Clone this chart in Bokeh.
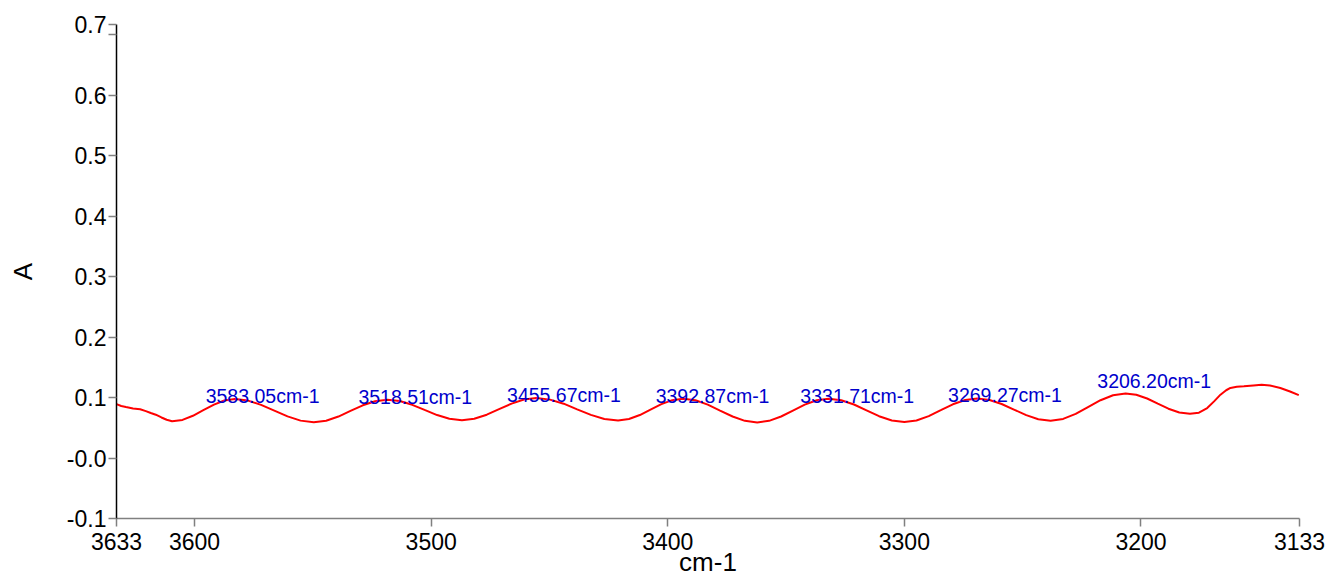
from bokeh.plotting import figure
from bokeh.models import Range1d, FixedTicker, CustomJSTickFormatter
from bokeh.core.properties import value
from bokeh.embed import file_html
from bokeh.resources import INLINE

# ---------------- data ----------------
wavenumber = [
    3633.0, 3631.0, 3629.0, 3626.0, 3623.0, 3620.6, 3618.5, 3616.4, 3614.0, 3611.8,
    3609.5, 3605.1, 3600.7, 3596.3, 3591.8, 3587.4, 3583.0, 3577.4, 3571.9, 3566.3,
    3560.7, 3555.2, 3549.6, 3544.4, 3539.2, 3534.1, 3528.9, 3523.7, 3518.5, 3513.3,
    3508.0, 3502.8, 3497.5, 3492.3, 3487.0, 3481.8, 3476.5, 3471.3, 3466.0, 3460.8,
    3455.5, 3449.8, 3444.0, 3438.3, 3432.5, 3426.8, 3421.0, 3416.4, 3411.8, 3407.3,
    3402.7, 3398.1, 3393.5, 3388.3, 3383.1, 3377.9, 3372.6, 3367.4, 3362.2, 3357.2,
    3352.1, 3347.1, 3342.1, 3337.0, 3332.0, 3326.7, 3321.3, 3316.0, 3310.7, 3305.3,
    3300.0, 3294.9, 3289.7, 3284.6, 3279.5, 3274.3, 3269.2, 3264.0, 3258.9, 3253.7,
    3248.5, 3243.4, 3238.2, 3232.9, 3227.6, 3222.4, 3217.1, 3211.8, 3206.5, 3202.0,
    3197.4, 3192.9, 3188.4, 3183.8, 3179.3, 3175.5, 3172.0, 3169.0, 3166.4, 3164.0,
    3162.2, 3159.5, 3156.5, 3152.5, 3149.0, 3145.5, 3141.1, 3137.0, 3133.3,
]
absorbance = [
    0.0890, 0.0860, 0.0843, 0.0820, 0.0805, 0.0775, 0.0745, 0.0716, 0.0670, 0.0633,
    0.0608, 0.0630, 0.0698, 0.0790, 0.0883, 0.0950, 0.0975, 0.0949, 0.0879, 0.0784,
    0.0688, 0.0618, 0.0592, 0.0617, 0.0685, 0.0778, 0.0871, 0.0939, 0.0964, 0.0941,
    0.0879, 0.0795, 0.0710, 0.0648, 0.0625, 0.0649, 0.0716, 0.0808, 0.0899, 0.0966,
    0.0990, 0.0965, 0.0898, 0.0805, 0.0713, 0.0645, 0.0620, 0.0644, 0.0710, 0.0800,
    0.0890, 0.0956, 0.0980, 0.0954, 0.0882, 0.0784, 0.0686, 0.0614, 0.0588, 0.0614,
    0.0686, 0.0784, 0.0882, 0.0954, 0.0980, 0.0954, 0.0884, 0.0788, 0.0691, 0.0621,
    0.0595, 0.0621, 0.0693, 0.0790, 0.0888, 0.0959, 0.0985, 0.0960, 0.0893, 0.0801,
    0.0708, 0.0641, 0.0616, 0.0646, 0.0729, 0.0842, 0.0955, 0.1038, 0.1068, 0.1045,
    0.0984, 0.0899, 0.0815, 0.0753, 0.0730, 0.0750, 0.0826, 0.0940, 0.1047, 0.1120,
    0.1158, 0.1178, 0.1186, 0.1200, 0.1212, 0.1200, 0.1158, 0.1100, 0.1040,
]
peak_wavenumber = [3583.05, 3518.51, 3455.67, 3392.87, 3331.71, 3269.27, 3206.20]
peak_absorbance = [0.0975, 0.0964, 0.0990, 0.0980, 0.0980, 0.0985, 0.1068]
peak_labels = [f"{w:.2f}cm-1" for w in peak_wavenumber]

x_ticks = [3633, 3600, 3500, 3400, 3300, 3200, 3133]
y_ticks = [-0.1, 0.0, 0.1, 0.2, 0.3, 0.4, 0.5, 0.6, 0.7]
x_start, x_end = 3633, 3133
y_start, y_end = -0.1, 0.7166

# ---------------- figure ----------------
FONT = "Liberation Sans"
p = figure(
    width=1330, height=580,
    x_range=Range1d(x_start, x_end), y_range=Range1d(y_start, y_end),
    min_border_left=116, min_border_right=31, min_border_top=24, min_border_bottom=62,
    output_backend="svg", toolbar_location=None,
)
p.background_fill_color = "white"
p.border_fill_color = "white"
p.outline_line_color = None
p.xgrid.visible = False
p.ygrid.visible = False

p.line(wavenumber, absorbance, line_color="#ff0000", line_width=2)

# pixel lifts so the labels sit as in the reference (last one clears the curve)
lifts = [-3, -3, -3, -3, -3, -3, -12]
p.text(
    x=peak_wavenumber, y=peak_absorbance, text=peak_labels,
    x_offset=-29, y_offset=lifts,
    text_align="left", text_baseline="alphabetic",
    text_font=value(FONT), text_font_size="19.5px", text_color="#0000cc",
)

# axes
xa = p.xaxis[0]
xa.ticker = FixedTicker(ticks=x_ticks)
xa.axis_label = "cm-1"
xa.axis_label_text_font = FONT
xa.axis_label_text_font_size = "26px"
xa.axis_label_text_font_style = "normal"
xa.axis_label_text_color = "black"
xa.axis_label_standoff = -6
xa.major_label_text_font = FONT
xa.major_label_text_font_size = "23px"
xa.major_label_text_color = "black"
xa.major_label_standoff = 6
xa.axis_line_color = "#808080"
xa.axis_line_width = 1.5
xa.major_tick_line_color = "#808080"
xa.major_tick_line_width = 1.5
xa.major_tick_out = 8
xa.major_tick_in = 0
xa.minor_tick_line_color = None

# the reference prints the top label "0.7" at the very end of the axis
top_label_at = y_end - 0.0003
ya = p.yaxis[0]
ya.ticker = FixedTicker(ticks=y_ticks + [top_label_at])
ya.formatter = CustomJSTickFormatter(code="""
    if (tick > 0.705) { return "0.7"; }
    if (Math.abs(tick - 0.7) < 1e-9) { return ""; }
    if (Math.abs(tick) < 1e-9) { return "-0.0"; }
    return tick.toFixed(1);
""")
ya.axis_label = "A"
ya.axis_label_text_font = FONT
ya.axis_label_text_font_size = "26px"
ya.axis_label_text_font_style = "normal"
ya.axis_label_text_color = "black"
ya.axis_label_standoff = 26
ya.major_label_text_font = FONT
ya.major_label_text_font_size = "23px"
ya.major_label_text_color = "black"
ya.major_label_standoff = 2
ya.axis_line_color = "black"
ya.axis_line_width = 1.5
ya.major_tick_line_color = "#808080"
ya.major_tick_line_width = 1.5
ya.major_tick_out = 8
ya.major_tick_in = 0
ya.minor_tick_line_color = None

open("out.html", "w").write(file_html(p, INLINE))
